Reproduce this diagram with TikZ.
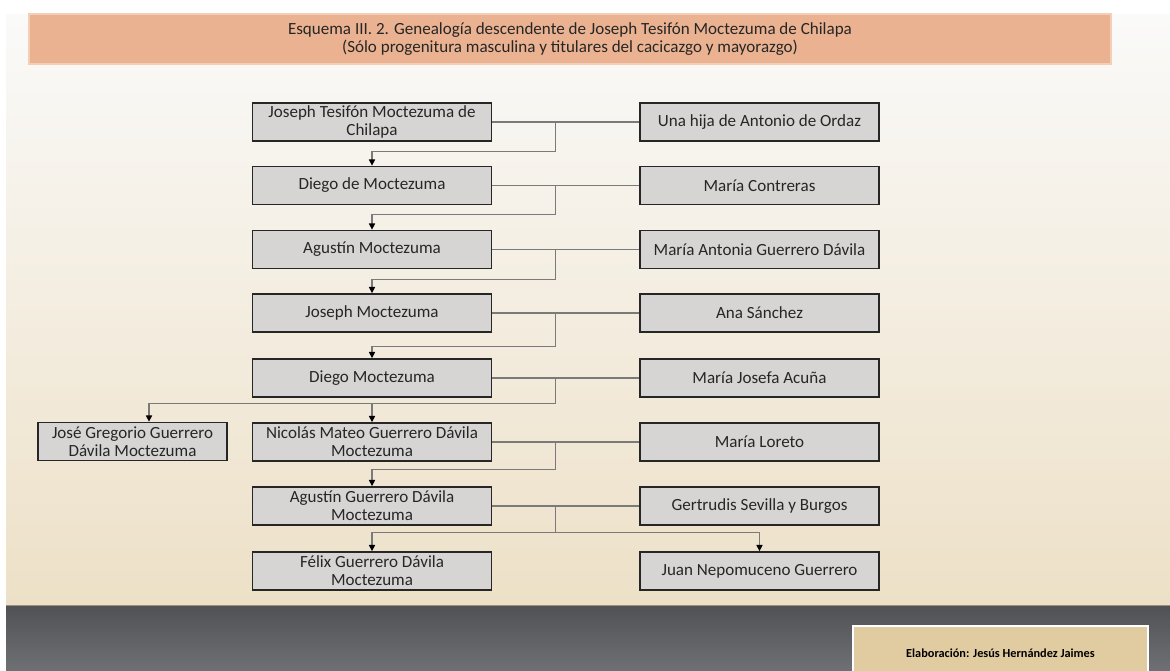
\documentclass[tikz,border=0pt]{standalone}
\usepackage{fontspec}
\setmainfont{Carlito}
\usepackage{tikz}
\usetikzlibrary{arrows.meta, positioning, calc}
\definecolor{bandsalmon}{HTML}{EBB291}
\definecolor{bandedge}{HTML}{F4CFB8}
\definecolor{boxgray}{HTML}{D7D4D4}
\definecolor{paneltop}{HTML}{FAFAF9}
\definecolor{panelbot}{HTML}{EDE0C7}
\definecolor{stonegray}{HTML}{5F6064}
\definecolor{stoneedge}{HTML}{9A8F7C}
\definecolor{creditbeige}{HTML}{E1CBA1}
\definecolor{inkgray}{HTML}{262626}
\definecolor{linegray}{HTML}{7A7A7A}

\tikzset{
  person/.style={draw=black!85, line width=1pt, fill=boxgray, minimum width=4.78cm,
    minimum height=0.76cm, inner sep=0pt, align=center,
    font=\fontsize{9.7}{10.4}\selectfont, text=inkgray},
  marriage/.style={draw=linegray, line width=0.6pt},
  descent/.style={draw=linegray, line width=0.6pt,
    -{Triangle[width=3.5pt,length=3.5pt,color=black]}},
}

\begin{document}
\begin{tikzpicture}[x=0.02cm, y=-0.02cm]
\clip (0,0) rectangle (1170,670);

% Background
\fill[white] (0,0) rectangle (1170,670);
\shade[top color=paneltop, bottom color=panelbot] (6,14) rectangle (1170,605);
\shade[top color=stonegray!85!black, bottom color=stonegray!90!white] (6,605) rectangle (1170,670);
\draw[stoneedge, line width=1pt] (6,605.5) -- (1170,605.5);

% Title
\node[fill=bandsalmon, draw=bandedge, line width=0.8pt, minimum width=21.64cm,
      minimum height=1cm, align=center, text=inkgray,
      font=\fontsize{9.7}{10.6}\selectfont] (title) at (570,39)
    {Esquema III. 2. Genealogía descendente de Joseph Tesifón Moctezuma de Chilapa\\
     (Sólo progenitura masculina y titulares del cacicazgo y mayorazgo)};

% Male line
\node[person] (p1) at (372,122) {Joseph Tesifón Moctezuma de\\Chilapa};
\node[person] (p2) at (372,185.5) {Diego de Moctezuma};
\node[person] (p3) at (372,249.5) {Agustín Moctezuma};
\node[person] (p4) at (372,313) {Joseph Moctezuma};
\node[person] (p5) at (372,378) {Diego Moctezuma};
\node[person] (p6) at (372,442) {Nicolás Mateo Guerrero Dávila\\Moctezuma};
\node[person] (p7) at (372,506) {Agustín Guerrero Dávila\\Moctezuma};
\node[person] (p8) at (372,571) {Félix Guerrero Dávila\\Moctezuma};
\node[person, minimum width=3.78cm] (g) at (132.5,441.5) {José Gregorio Guerrero\\Dávila Moctezuma};

% Spouses
\node[person] (s1) at (759.5,122) {Una hija de Antonio de Ordaz};
\node[person] (s2) at (759.5,185.5) {María Contreras};
\node[person] (s3) at (759.5,249.5) {María Antonia Guerrero Dávila};
\node[person] (s4) at (759.5,313) {Ana Sánchez};
\node[person] (s5) at (759.5,378) {María Josefa Acuña};
\node[person] (s6) at (759.5,442) {María Loreto};
\node[person] (s7) at (759.5,506) {Gertrudis Sevilla y Burgos};
\node[person] (s8) at (759.5,571) {Juan Nepomuceno Guerrero};

% Marriages and descent
\foreach \a/\b/\d in {1/2/14, 2/3/15, 3/4/14, 4/5/12, 6/7/17} {
  \draw[marriage] (p\a.east) -- (s\a.west);
  \draw[descent] ($(p\a.east)!0.43!(s\a.west)$) |- ($(p\b.north)+(0,-\d)$) -- (p\b.north);
}
\draw[marriage] (p5.east) -- (s5.west);
\draw[descent] ($(p5.east)!0.43!(s5.west)$) |- ($([xshift=0.33cm]g.north)+(0,-18)$)
    -- ([xshift=0.33cm]g.north);
\draw[descent] ($(p6.north)+(0,-19)$) -- (p6.north);
\draw[marriage] (p7.east) -- (s7.west);
\draw[descent] ($(p7.east)!0.43!(s7.west)$) |- ($(p8.north)+(0,-19)$) -- (p8.north);
\draw[descent] ($(p7.east)!0.43!(s7.west)$) |- ($(s8.north)+(0,-19)$) -- (s8.north);

% Credit
\node[fill=creditbeige, draw=white, line width=1pt, minimum width=5.9cm,
      minimum height=1.08cm, text=black,
      font=\fontsize{7}{8}\selectfont\bfseries] (credit) at (1000.5,653)
    {Elaboración: Jesús Hernández Jaimes};
\end{tikzpicture}
\end{document}
